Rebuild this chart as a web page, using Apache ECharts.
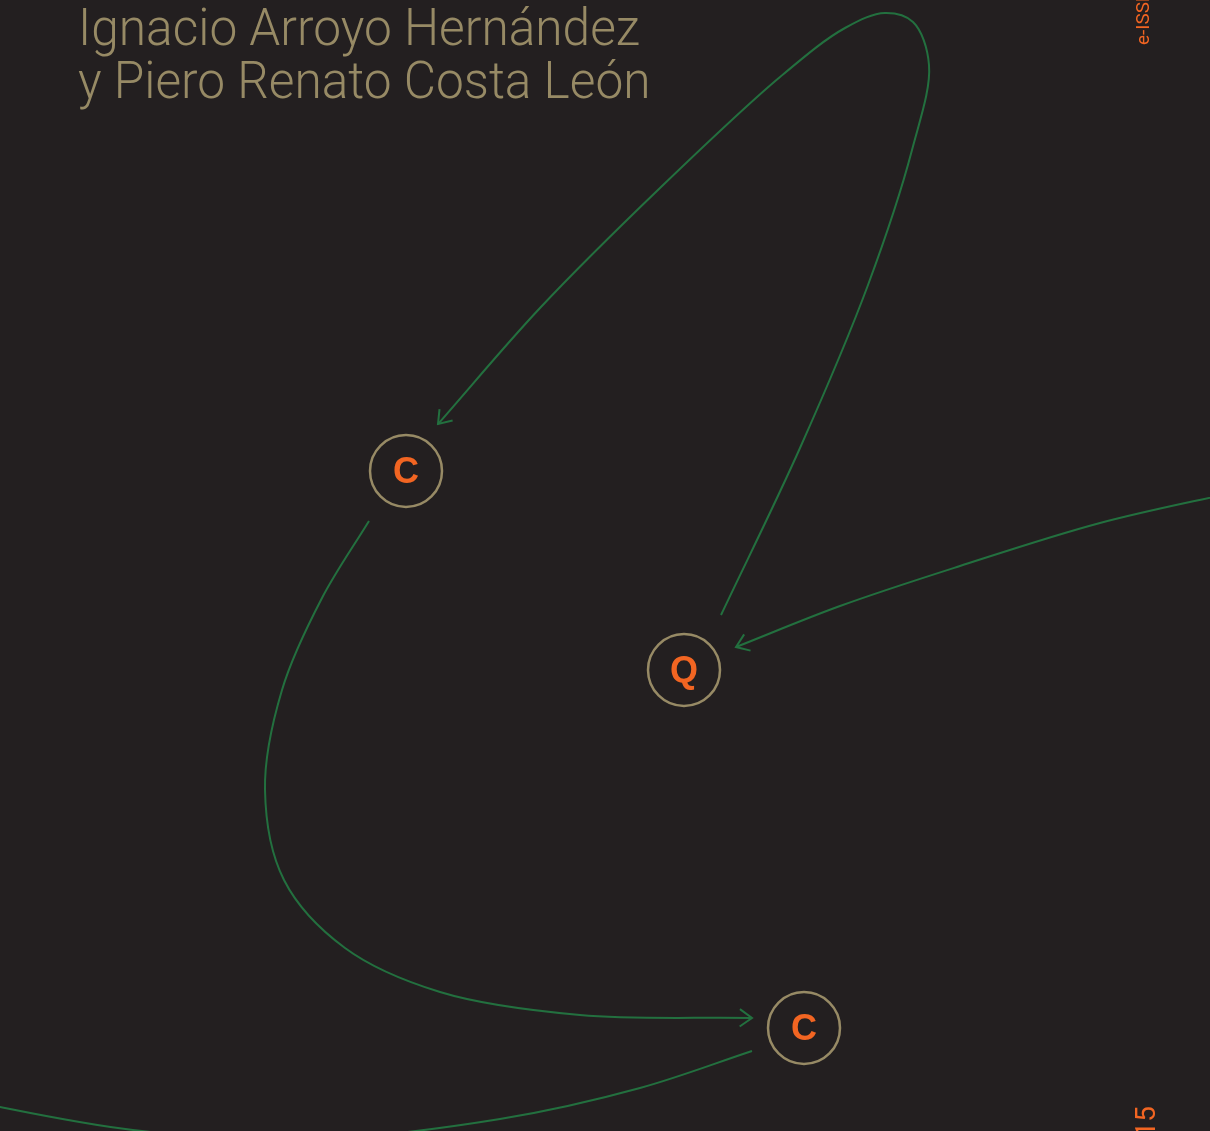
<!DOCTYPE html>
<html>
<head>
<meta charset="utf-8">
<script src="https://cdn.jsdelivr.net/npm/echarts@6/dist/echarts.min.js"></script>
<style>
html,body{margin:0;padding:0;background:#231f20;}
#main{width:1210px;height:1131px;}
</style>
</head>
<body>
<div id="main"></div>
<script>
// ---- data ----
const titleLines = ['Ignacio Arroyo Hernández', 'y Piero Renato Costa León'];
const sideTextTop = 'e-ISSN 2444-9504';
const sideTextBottom = '15';

const nodeLabels = ['C', 'Q', 'C'];
const nodeX = [406, 684, 804];
const nodeY = [471, 670, 1028];

// curve guide points (x, y) for each connector
const edgeQtoC1 = [[721,615],[800,448],[868,285],[912,150],[929,65],[913,22],[885,13],[845,28],[780,77],[660,188],[540,308],[438,424]];
const edgeRightToQ = [[1240,491],[1100,523],[960,566],[840,606],[736,647]];
const edgeC1toC3 = [[369,521],[322,598],[282,690],[265,790],[284,880],[345,948],[440,992],[580,1015],[752,1018]];
const edgeC3toLeft = [[752,1051],[640,1088],[500,1119],[300,1140],[133,1130],[0,1107],[-40,1098]];
const edges = [edgeQtoC1, edgeRightToQ, edgeC1toC3, edgeC3toLeft];
const edgeArrow = [true, true, true, false];

// ---- styles ----
const BG = '#231f20';
const GREEN = '#23703f';
const TAN = '#978a65';
const ORANGE = '#f26522';
const TITLE_FONT = '300 52px Roboto, "DejaVu Sans Condensed", sans-serif';
const TITLE_WIDTH = 562;

function measure(font, text) {
  const ctx = document.createElement('canvas').getContext('2d');
  ctx.font = font;
  return ctx.measureText(text).width;
}
const titleScale = TITLE_WIDTH / measure(TITLE_FONT, titleLines[0]);

// centripetal Catmull-Rom -> cubic Bezier path
function crPath(pts) {
  const n = pts.length;
  const P = (i) => {
    if (i < 0) return [2 * pts[0][0] - pts[1][0], 2 * pts[0][1] - pts[1][1]];
    if (i >= n) return [2 * pts[n - 1][0] - pts[n - 2][0], 2 * pts[n - 1][1] - pts[n - 2][1]];
    return pts[i];
  };
  const dist = (a, b) => Math.pow(Math.hypot(b[0] - a[0], b[1] - a[1]), 0.5) || 1e-6;
  let d = 'M' + pts[0][0] + ' ' + pts[0][1];
  for (let i = 0; i < n - 1; i++) {
    const p0 = P(i - 1), p1 = P(i), p2 = P(i + 1), p3 = P(i + 2);
    const d1 = dist(p0, p1), d2 = dist(p1, p2), d3 = dist(p2, p3);
    const c1 = [0, 1].map(k => (d1 * d1 * p2[k] - d2 * d2 * p0[k] + (2 * d1 * d1 + 3 * d1 * d2 + d2 * d2) * p1[k]) / (3 * d1 * (d1 + d2)));
    const c2 = [0, 1].map(k => (d3 * d3 * p1[k] - d2 * d2 * p3[k] + (2 * d3 * d3 + 3 * d3 * d2 + d2 * d2) * p2[k]) / (3 * d3 * (d3 + d2)));
    d += ' C' + c1[0] + ' ' + c1[1] + ' ' + c2[0] + ' ' + c2[1] + ' ' + p2[0] + ' ' + p2[1];
  }
  return d;
}

const chart = echarts.init(document.getElementById('main'));
const option = {
  backgroundColor: BG,
  animation: false,
  grid: { left: 0, right: 0, top: 0, bottom: 0 },
  xAxis: { type: 'value', min: 0, max: 1210, show: false },
  yAxis: { type: 'value', min: 0, max: 1131, inverse: true, show: false },
  graphic: [
    { type: 'text', x: 78, y: 32, scaleX: titleScale, silent: true,
      style: { text: titleLines[0], fill: TAN, align: 'left', verticalAlign: 'middle', font: TITLE_FONT } },
    { type: 'text', x: 78, y: 85, scaleX: titleScale, silent: true,
      style: { text: titleLines[1], fill: TAN, align: 'left', verticalAlign: 'middle', font: TITLE_FONT } },
    { type: 'text', x: 1144, y: 45, rotation: Math.PI / 2, silent: true,
      style: { text: sideTextTop, fill: ORANGE, align: 'left', verticalAlign: 'middle', font: '19px Roboto, sans-serif' } },
    { type: 'text', x: 1148, y: 1106, rotation: Math.PI / 2, silent: true,
      style: { text: sideTextBottom, fill: ORANGE, align: 'right', verticalAlign: 'middle', font: '28px Roboto, sans-serif' } }
  ],
  series: [
    {
      type: 'custom',
      silent: true,
      clip: false,
      data: edges.map((e, i) => i),
      renderItem: function (params, api) {
        const idx = params.dataIndex;
        const pts = edges[idx].map(p => api.coord(p));
        const children = [{
          type: 'path',
          shape: { pathData: crPath(pts) },
          style: { fill: 'none', stroke: GREEN, lineWidth: 2 }
        }];
        if (edgeArrow[idx]) {
          const a = pts[pts.length - 1], b = pts[pts.length - 2];
          const ang = Math.atan2(a[1] - b[1], a[0] - b[0]);
          const L = 15, spread = 0.62;
          const p1 = [a[0] - L * Math.cos(ang - spread), a[1] - L * Math.sin(ang - spread)];
          const p2 = [a[0] - L * Math.cos(ang + spread), a[1] - L * Math.sin(ang + spread)];
          children.push({
            type: 'polyline',
            shape: { points: [p1, a, p2] },
            style: { fill: 'none', stroke: GREEN, lineWidth: 2 }
          });
        }
        return { type: 'group', children: children };
      }
    },
    {
      type: 'scatter',
      silent: true,
      symbol: 'circle',
      symbolSize: 72,
      data: nodeLabels.map((n, i) => ({ name: n, value: [nodeX[i], nodeY[i]] })),
      itemStyle: { color: BG, borderColor: TAN, borderWidth: 2.5, opacity: 1 },
      label: {
        show: true, position: 'inside', formatter: '{b}', offset: [0, 2],
        color: ORANGE, fontSize: 36, fontWeight: 'bold',
        fontFamily: '"Liberation Sans", Arial, sans-serif'
      }
    }
  ]
};
chart.setOption(option);
</script>
</body>
</html>
